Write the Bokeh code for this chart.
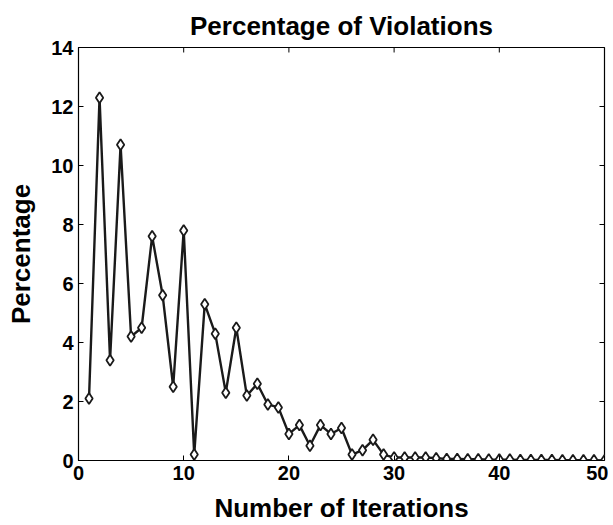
from bokeh.plotting import figure
from bokeh.models import Range1d, FixedTicker
from bokeh.embed import file_html
from bokeh.resources import INLINE

iterations = list(range(1, 51))
percentage = [2.1, 12.3, 3.4, 10.7, 4.2, 4.5, 7.6, 5.6, 2.5, 7.8,
              0.2, 5.3, 4.3, 2.3, 4.5, 2.2, 2.6, 1.9, 1.8, 0.9,
              1.2, 0.5, 1.2, 0.9, 1.1, 0.2, 0.35, 0.7, 0.2, 0.1,
              0.1, 0.1, 0.1, 0.08, 0.05, 0.05, 0.04, 0.04, 0.03, 0.03,
              0.03, 0.02, 0.02, 0.02, 0.02, 0.01, 0.01, 0.01, 0.01, 0.0]
x_ticks = [0, 10, 20, 30, 40, 50]
y_ticks = [0, 2, 4, 6, 8, 10, 12, 14]

FONT = "Liberation Sans"
X0, X1, Y0, Y1 = 0, 50, 0, 14
W, H = 608, 525
BL, BR, BT, BB = 78, 4, 47, 64

p = figure(width=W, height=H, output_backend="svg", toolbar_location=None,
           x_range=Range1d(X0, X1), y_range=Range1d(Y0, Y1),
           title="Percentage of Violations",
           min_border_left=BL, min_border_right=BR, min_border_top=BT, min_border_bottom=BB)
p.title.text_font = FONT
p.title.text_font_size = "26px"
p.title.text_font_style = "bold"
p.title.text_color = "black"
p.title.align = "center"
p.title.standoff = 13
p.grid.visible = False
p.outline_line_color = "black"
p.outline_line_width = 1.2
p.background_fill_color = "white"
p.border_fill_color = "white"

for ax, lab in ((p.xaxis[0], "Number of Iterations"), (p.yaxis[0], "Percentage")):
    ax.axis_label = lab
    ax.axis_label_text_font = FONT
    ax.axis_label_text_font_size = "26px"
    ax.axis_label_text_font_style = "bold"
    ax.axis_label_text_color = "black"
    ax.major_label_text_font = FONT
    ax.major_label_text_font_size = "20px"
    ax.major_label_text_font_style = "bold"
    ax.major_label_text_color = "black"
    ax.major_tick_in = 5
    ax.major_tick_out = 0
    ax.minor_tick_line_color = None
    ax.axis_line_color = "black"
    ax.major_tick_line_color = "black"
    ax.major_label_standoff = 5
p.xaxis[0].ticker = FixedTicker(ticks=x_ticks)
p.yaxis[0].ticker = FixedTicker(ticks=y_ticks)
p.xaxis[0].axis_label_standoff = 10
p.yaxis[0].axis_label_standoff = 12

# inward ticks on the top and right edges of the box (5px long)
frame_w = W - BL - BR
frame_h = H - BT - BB
dx = 5 * (X1 - X0) / frame_w
dy = 5 * (Y1 - Y0) / frame_h
p.segment(x0=x_ticks, x1=x_ticks, y0=[Y1] * len(x_ticks), y1=[Y1 - dy] * len(x_ticks),
          line_color="black", line_width=1)
p.segment(x0=[X1] * len(y_ticks), x1=[X1 - dx] * len(y_ticks), y0=y_ticks, y1=y_ticks,
          line_color="black", line_width=1)

p.line(iterations, percentage, line_color="#1a1a1a", line_width=2.4)
p.scatter(iterations, percentage, marker="diamond", size=11, fill_color="white",
          line_color="#1a1a1a", line_width=1.8)

open("out.html", "w").write(file_html(p, INLINE))
